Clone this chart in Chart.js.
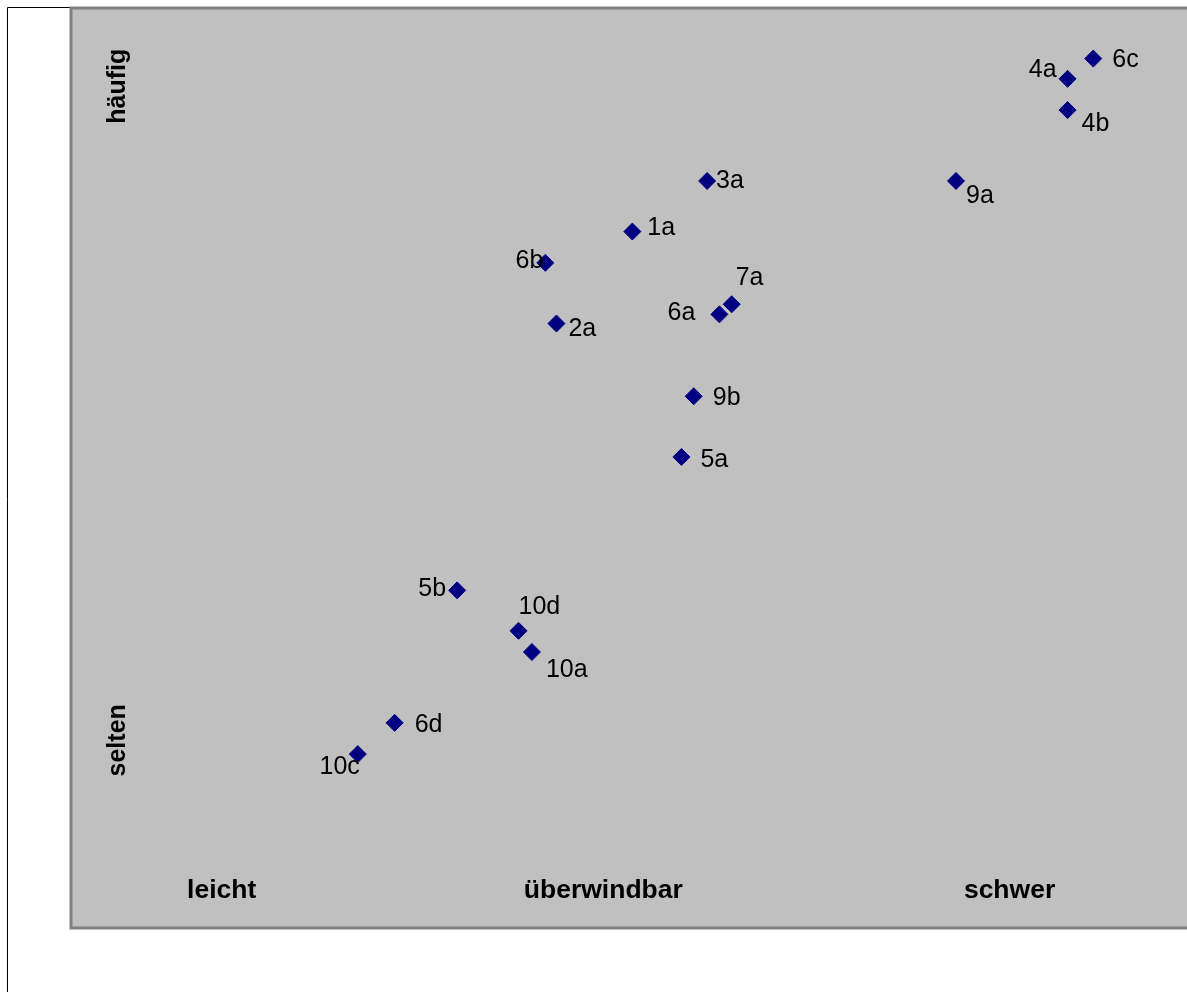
<!DOCTYPE html>
<html>
<head>
<meta charset="utf-8">
<script src="https://cdn.jsdelivr.net/npm/chart.js@4.4.1/dist/chart.umd.min.js"></script>
<style>
  html, body { margin: 0; padding: 0; background: #fff; overflow: hidden; }
  #wrap { position: relative; width: 1187px; height: 992px; }
</style>
</head>
<body>
<div id="wrap"><canvas id="c" width="1187" height="992"></canvas></div>
<script>
// Barriers: how hard to overcome (x) vs. how often they occur (y)
const pointNames = ['1a', '2a', '3a', '4a', '4b', '5a', '5b', '6a', '6b', '6c', '6d', '7a', '9a', '9b', '10a', '10c', '10d'];
const difficulty = [5.03, 4.35, 5.70, 8.93, 8.93, 5.47, 3.46, 5.81, 4.25, 9.16, 2.90, 5.92, 7.93, 5.58, 4.13, 2.57, 4.01];
const frequency  = [7.57, 6.57, 8.12, 9.23, 8.89, 5.12, 3.67, 6.67, 7.23, 9.45, 2.23, 6.78, 8.12, 5.78, 3.00, 1.89, 3.23];

// Axis wording drawn inside the plot
const difficultyLabels = ['leicht', 'überwindbar', 'schwer'];
const frequencyLabels  = ['selten', 'häufig'];

const points = pointNames.map((n, i) => ({ x: difficulty[i], y: frequency[i], name: n }));

// Where each point's name sits relative to its marker (pixels, text alignment)
const nameOffsets = {
  '1a':  [15, -5, 'left'],
  '2a':  [12, 4, 'left'],
  '3a':  [9, -2, 'left'],
  '4a':  [-11, -11, 'right'],
  '4b':  [14, 12, 'left'],
  '5a':  [19, 1, 'left'],
  '5b':  [-11, -3, 'right'],
  '6a':  [-24, -3, 'right'],
  '6b':  [-2, -4, 'right'],
  '6c':  [19, 0, 'left'],
  '6d':  [20, 0, 'left'],
  '7a':  [4, -28, 'left'],
  '9a':  [10, 13, 'left'],
  '9b':  [19, 0, 'left'],
  '10a': [14, 16, 'left'],
  '10c': [2, 11, 'right'],
  '10d': [0, -26, 'left']
};

const framePlugin = {
  id: 'frame',
  beforeDraw(chart) {
    const ctx = chart.ctx;
    const a = chart.chartArea;
    ctx.save();
    ctx.fillStyle = '#ffffff';
    ctx.fillRect(0, 0, chart.width, chart.height);
    // outer chart border
    ctx.strokeStyle = '#000000';
    ctx.lineWidth = 1;
    ctx.beginPath();
    ctx.moveTo(7.5, chart.height);
    ctx.lineTo(7.5, 7.5);
    ctx.lineTo(chart.width, 7.5);
    ctx.stroke();
    // plot area
    ctx.fillStyle = '#c0c0c0';
    ctx.fillRect(a.left, a.top, a.right - a.left, a.bottom - a.top);
    ctx.strokeStyle = '#808080';
    ctx.lineWidth = 3;
    ctx.beginPath();
    ctx.moveTo(a.right + 5, a.top);
    ctx.lineTo(a.left, a.top);
    ctx.lineTo(a.left, a.bottom);
    ctx.lineTo(a.right + 5, a.bottom);
    ctx.stroke();
    ctx.restore();
  }
};

const axisWordsPlugin = {
  id: 'axisWords',
  beforeDatasetsDraw(chart, args, opts) {
    const ctx = chart.ctx;
    const xs = chart.scales.x, ys = chart.scales.y;
    ctx.save();
    ctx.fillStyle = '#000';
    ctx.font = 'bold 26.5px "Liberation Sans", Arial, sans-serif';
    ctx.textAlign = 'center';
    ctx.textBaseline = 'middle';
    difficultyLabels.forEach((t, i) => {
      ctx.fillText(t, xs.getPixelForValue(opts.xAt[i]), ys.getPixelForValue(opts.xRow) + 1);
    });
    ctx.font = 'bold 25px "Liberation Sans", Arial, sans-serif';
    frequencyLabels.forEach((t, i) => {
      ctx.save();
      ctx.translate(xs.getPixelForValue(opts.yCol) + 1, ys.getPixelForValue(opts.yAt[i]));
      ctx.rotate(-Math.PI / 2);
      ctx.fillText(t, 0, 0);
      ctx.restore();
    });
    ctx.restore();
  }
};

const pointNamesPlugin = {
  id: 'pointNames',
  afterDatasetsDraw(chart) {
    const ctx = chart.ctx;
    const meta = chart.getDatasetMeta(0);
    const data = chart.data.datasets[0].data;
    ctx.save();
    ctx.fillStyle = '#000';
    ctx.font = '25px "Liberation Sans", Arial, sans-serif';
    ctx.textBaseline = 'middle';
    meta.data.forEach((el, i) => {
      const name = data[i].name;
      const off = nameOffsets[name] || [12, 0, 'left'];
      ctx.textAlign = off[2];
      ctx.fillText(name, el.x + off[0], el.y + off[1] + 2);
    });
    ctx.restore();
  }
};

new Chart(document.getElementById('c'), {
  type: 'scatter',
  data: {
    datasets: [{
      data: points,
      pointStyle: 'rectRot',
      pointRadius: 8.5,
      pointHoverRadius: 8.5,
      pointBackgroundColor: '#000080',
      pointBorderColor: '#000080',
      pointBorderWidth: 1
    }]
  },
  options: {
    responsive: false,
    devicePixelRatio: 1,
    animation: false,
    layout: { autoPadding: false, padding: { left: 71, top: 8, right: 0, bottom: 64 } },
    scales: {
      x: { type: 'linear', min: 0, max: 10, display: false },
      y: { type: 'linear', min: 0, max: 10, display: false }
    },
    plugins: {
      legend: { display: false },
      tooltip: { enabled: false },
      axisWords: { xAt: [1.35, 4.77, 8.41], xRow: 0.42, yCol: 0.41, yAt: [2.04, 9.15] }
    }
  },
  plugins: [framePlugin, axisWordsPlugin, pointNamesPlugin]
});
</script>
</body>
</html>
